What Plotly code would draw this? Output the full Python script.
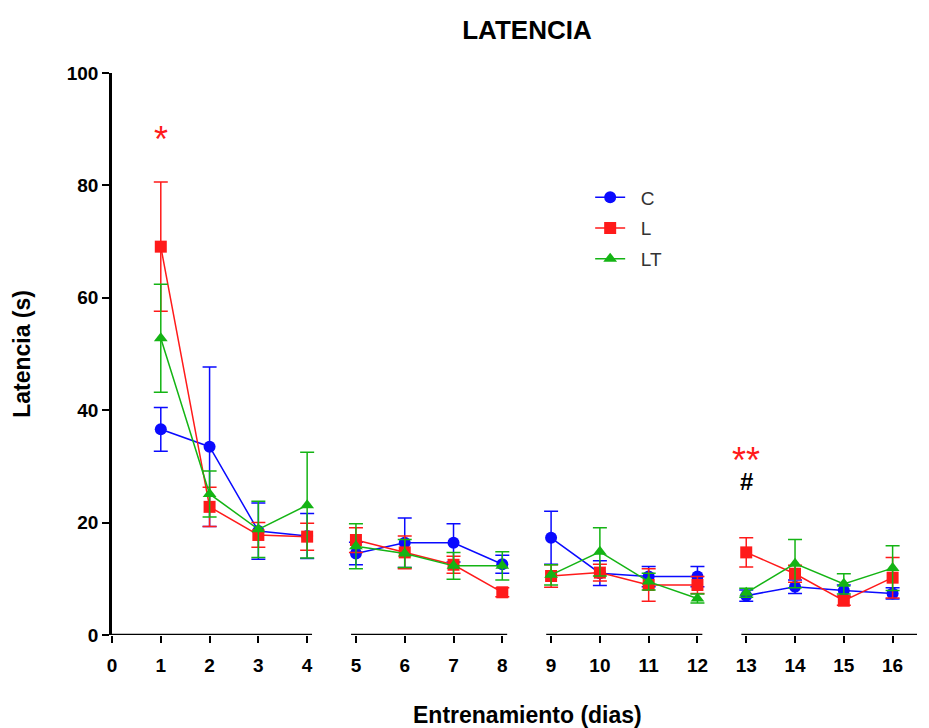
import plotly.graph_objects as go

days = list(range(1, 17))
segments = [(1, 4), (5, 8), (9, 12), (13, 16)]
axis_segments = [(0, 4.1), (4.9, 8.1), (8.9, 12.1), (12.9, 16.6)]

C_mean = [36.6, 33.5, 18.5, 17.6, 14.5, 16.4, 16.4, 12.6, 17.3, 11.0, 10.4, 10.4, 7.0, 8.6, 7.9, 7.4]
C_err = [3.9, 14.2, 5.0, 4.0, 2.0, 4.4, 3.4, 1.6, 4.7, 2.2, 1.8, 1.8, 1.0, 1.2, 1.0, 1.0]
L_mean = [69.1, 22.8, 17.8, 17.5, 16.9, 14.7, 12.5, 7.6, 10.5, 11.1, 8.9, 8.9, 14.7, 10.9, 6.1, 10.2]
L_err = [11.5, 3.5, 2.2, 2.4, 2.2, 2.9, 1.5, 0.8, 2.0, 1.5, 2.9, 1.5, 2.6, 1.5, 0.8, 3.6]
LT_mean = [52.8, 25.1, 18.8, 23.1, 15.8, 14.5, 12.3, 12.3, 10.7, 14.8, 9.5, 6.5, 7.5, 12.7, 9.1, 11.9]
LT_err = [9.6, 4.1, 5.0, 9.4, 4.0, 2.5, 2.4, 2.5, 1.8, 4.3, 1.5, 0.8, 0.8, 4.3, 1.8, 4.0]

series = [
    ("C", C_mean, C_err, "#0a0aff", "circle"),
    ("L", L_mean, L_err, "#ff1a1a", "square"),
    ("LT", LT_mean, LT_err, "#14b414", "triangle-up"),
]

FONT = "Liberation Sans, Arial, sans-serif"

fig = go.Figure()
for name, mean, err, color, sym in series:
    xs, ys, es = [], [], []
    for a, b in segments:
        for d in range(a, b + 1):
            i = days.index(d)
            xs.append(d); ys.append(mean[i]); es.append(err[i])
        xs.append(None); ys.append(None); es.append(None)
    fig.add_trace(go.Scatter(
        x=xs, y=ys, name="\u00a0\u00a0" + name, mode="lines+markers", legendgroup=name,
        line=dict(color=color, width=1.5),
        marker=dict(symbol=sym, size=12, color=color),
        error_y=dict(type="data", array=es, visible=True, color=color,
                     thickness=1.5, width=7),
        connectgaps=False,
    ))

for x0, x1 in axis_segments:
    fig.add_shape(type="line", xref="x", yref="y", x0=x0, x1=x1, y0=0, y1=0,
                  line=dict(color="black", width=2.5))

fig.add_annotation(x=1, y=88.2, text="*", showarrow=False,
                   font=dict(family=FONT, size=36, color="#ff1a1a"))
fig.add_annotation(x=13, y=31.0, text="**", showarrow=False,
                   font=dict(family=FONT, size=36, color="#ff1a1a"))
fig.add_annotation(x=13, y=27.3, text="<b>#</b>", showarrow=False,
                   font=dict(family=FONT, size=24, color="black"))

fig.add_annotation(xref="paper", yref="paper", x=-0.112, xanchor="center", y=0.5,
                   text="<b>Latencia (s)</b>", textangle=-90, showarrow=False,
                   font=dict(family=FONT, size=23, color="black"))
fig.add_annotation(xref="paper", yref="paper", x=0.516, xanchor="center",
                   y=-0.142, yanchor="middle",
                   text="<b>Entrenamiento (dias)</b>", showarrow=False,
                   font=dict(family=FONT, size=23, color="black"))

fig.update_layout(
    width=921, height=720,
    paper_bgcolor="white", plot_bgcolor="white",
    margin=dict(l=104, r=12, t=65, b=93),
    title=dict(text="<b>LATENCIA</b>", x=(527 - 8) / 921, xanchor="center",
               y=1 - 22 / 720, yanchor="middle",
               font=dict(family=FONT, size=26, color="black")),
    font=dict(family=FONT, color="black"),
    showlegend=True,
    legend=dict(x=0.594, y=0.8125, xanchor="left", yanchor="top",
                font=dict(family=FONT, size=19, color="#333333"),
                bgcolor="rgba(0,0,0,0)", tracegroupgap=3),
    xaxis=dict(range=[0, 16.5], tickmode="array", tickvals=list(range(0, 17)),
               ticktext=[str(v) for v in range(0, 17)],
               showline=False, showgrid=False, zeroline=False,
               ticks="outside", ticklen=7, tickwidth=2, tickcolor="black",
               ticklabelstandoff=6,
               tickfont=dict(family=FONT, size=19, color="black", weight="bold")),
    yaxis=dict(range=[0, 100], tickvals=[0, 20, 40, 60, 80, 100],
               showline=True, linecolor="black", linewidth=2.5,
               showgrid=False, zeroline=False,
               ticks="outside", ticklen=7, tickwidth=2, tickcolor="black",
               tickfont=dict(family=FONT, size=19, color="black", weight="bold")),
)

fig.write_html("out.html")
